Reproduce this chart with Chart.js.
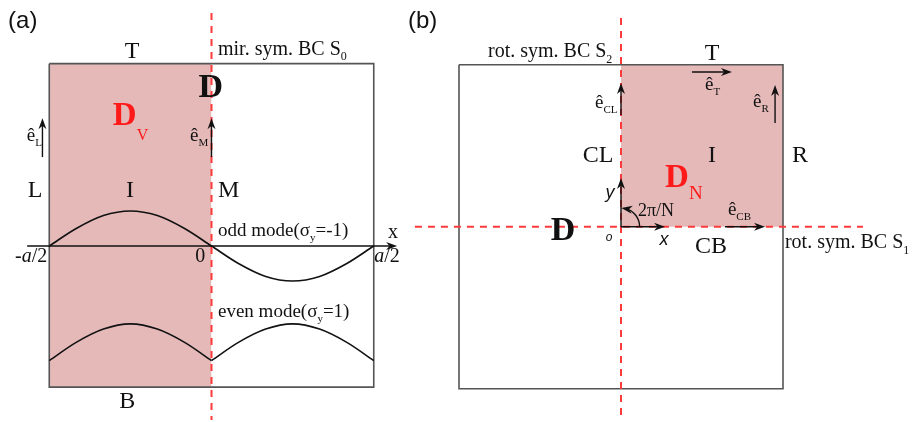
<!DOCTYPE html>
<html>
<head>
<meta charset="utf-8">
<script src="https://cdn.jsdelivr.net/npm/chart.js@4.4.1/dist/chart.umd.min.js"></script>
<style>
  html, body { margin: 0; padding: 0; background: #fff; }
  #wrap { position: relative; width: 912px; height: 422px; }
  canvas { position: absolute; left: 0; top: 0; }
</style>
</head>
<body>
<div id="wrap">
  <canvas id="panelA" width="912" height="422"></canvas>
  <canvas id="panelB" width="912" height="422"></canvas>
</div>
<script>
// ---- panel (a): unit cell -a/2..a/2, y measured from the x axis (units of a)
const cellAX = [-0.5, 0.5, 0.5, -0.5, -0.5];
const cellAY = [0.562, 0.562, -0.435, -0.435, 0.562];
const halfAX = [-0.5, 0];            // shaded half cell D_V
const halfATop = 0.562;
const halfABottom = -0.435;
const modeX = [-0.5, -0.417, -0.333, -0.25, -0.167, -0.083, 0, 0.083, 0.167, 0.25, 0.333, 0.417, 0.5];
const oddY = [0, 0.054, 0.094, 0.108, 0.094, 0.054, 0, -0.054, -0.094, -0.108, -0.094, -0.054, 0];
const evenY = [-0.353, -0.297, -0.256, -0.240, -0.256, -0.297, -0.353, -0.297, -0.256, -0.240, -0.256, -0.297, -0.353];
const mirrorLineY = [0.718, -0.536];  // x = 0
const tickLabelsA = ["-a/2", "0", "a/2"];
const tickValuesA = [-0.556, -0.035, 0.541];

// ---- panel (b): square cell -1..1, origin o at the centre
const cellBX = [-1, 1, 1, -1, -1];
const cellBY = [1, 1, -1, -1, 1];
const sectorX = [0, 1];              // shaded sector D_N
const sectorTop = 1;
const sectorBottom = 0;
const rotLineVY = [1.288, -1.162];   // x = 0
const rotLineHX = [-1.272, 1.494];   // y = 0

const SERIF = '"Liberation Serif", "DejaVu Serif", serif';
const SANS = '"Liberation Sans", Arial, sans-serif';
const SHADE = '#e6b9b9';
const RED = '#ff1a1a';
const DASH_RED = '#ff3a3a';
const INK = '#111';

function pts(xs, ys) { return xs.map((x, i) => ({ x: x, y: ys[i] })); }

function lineDs(data, extra) {
  return Object.assign({
    data: data, borderColor: INK, borderWidth: 1.6, pointRadius: 0,
    fill: false, tension: 0
  }, extra);
}

// labels: parts [{t, sub, italic}] drawn at data coordinates
const labelsA = [
  { x: -0.627, y: 0.672, parts: [{ t: "(a)" }], size: 24, family: SANS },
  { x: -0.245, y: 0.579, parts: [{ t: "T" }], size: 24, align: "center" },
  { x: 0.020, y: 0.589, parts: [{ t: "mir. sym. BC S" }, { t: "0", sub: true }], size: 20 },
  { x: -0.002, y: 0.459, parts: [{ t: "D" }], size: 34, bold: true, align: "center" },
  { x: -0.304, y: 0.374, parts: [{ t: "D" }, { t: "V", sub: true }], size: 33, bold: true, color: RED, subSize: 16, subDy: 15 },
  { x: -0.569, y: 0.324, parts: [{ t: "ê" }, { t: "L", sub: true }], size: 19, subSize: 11, subDy: 5 },
  { x: -0.066, y: 0.324, parts: [{ t: "ê" }, { t: "M", sub: true }], size: 19, subSize: 11, subDy: 5 },
  { x: -0.544, y: 0.151, parts: [{ t: "L" }], size: 24, align: "center" },
  { x: -0.251, y: 0.151, parts: [{ t: "I" }], size: 24, align: "center" },
  { x: 0.020, y: 0.151, parts: [{ t: "M" }], size: 24 },
  { x: 0.559, y: 0.025, parts: [{ t: "x" }], size: 20, align: "center" },
  { x: tickValuesA[0], y: -0.049, parts: [{ t: "-" }, { t: "a", italic: true }, { t: "/2" }], size: 20, align: "center" },
  { x: tickValuesA[1], y: -0.049, parts: [{ t: tickLabelsA[1] }], size: 20, align: "center" },
  { x: tickValuesA[2], y: -0.049, parts: [{ t: "a", italic: true }, { t: "/2" }], size: 20, align: "center" },
  { x: 0.020, y: 0.031, parts: [{ t: "odd mode(σ" }, { t: "y", sub: true }, { t: "=-1)" }], size: 19 },
  { x: 0.020, y: -0.219, parts: [{ t: "even mode(σ" }, { t: "y", sub: true }, { t: "=1)" }], size: 19 },
  { x: -0.260, y: -0.499, parts: [{ t: "B" }], size: 24, align: "center" }
];
const arrowsA = [
  [-0.568, 0, 0.572, 0],
  [-0.521, 0.274, -0.521, 0.394],
  [0, 0.274, 0, 0.394]
];

const labelsB = [
  { x: -1.315, y: 1.227, parts: [{ t: "(b)" }], size: 24, family: SANS },
  { x: -0.821, y: 1.048, parts: [{ t: "rot. sym. BC S" }, { t: "2", sub: true }], size: 20 },
  { x: 0.562, y: 1.029, parts: [{ t: "T" }], size: 24, align: "center" },
  { x: 0.519, y: 0.844, parts: [{ t: "ê" }, { t: "T", sub: true }], size: 19, subSize: 11, subDy: 5 },
  { x: 0.815, y: 0.739, parts: [{ t: "ê" }, { t: "R", sub: true }], size: 19, subSize: 11, subDy: 5 },
  { x: -0.160, y: 0.733, parts: [{ t: "ê" }, { t: "CL", sub: true }], size: 19, subSize: 11, subDy: 5 },
  { x: -0.142, y: 0.399, parts: [{ t: "CL" }], size: 24, align: "center" },
  { x: 0.562, y: 0.399, parts: [{ t: "I" }], size: 24, align: "center" },
  { x: 1.105, y: 0.399, parts: [{ t: "R" }], size: 24, align: "center" },
  { x: 0.272, y: 0.245, parts: [{ t: "D" }, { t: "N", sub: true }], size: 33, bold: true, color: RED, subSize: 19, subDy: 12 },
  { x: -0.068, y: 0.177, parts: [{ t: "y" }], size: 18, italic: true, family: SANS, align: "center" },
  { x: 0.265, y: -0.113, parts: [{ t: "x" }], size: 18, italic: true, family: SANS, align: "center" },
  { x: -0.074, y: -0.088, parts: [{ t: "o" }], size: 12, italic: true, family: SANS, align: "center" },
  { x: 0.105, y: 0.066, parts: [{ t: "2π/N" }], size: 18 },
  { x: 0.660, y: 0.072, parts: [{ t: "ê" }, { t: "CB", sub: true }], size: 19, subSize: 11, subDy: 5 },
  { x: 0.556, y: -0.162, parts: [{ t: "CB" }], size: 24, align: "center" },
  { x: 1.012, y: -0.131, parts: [{ t: "rot. sym. BC S" }, { t: "1", sub: true }], size: 20 },
  { x: -0.358, y: -0.082, parts: [{ t: "D" }], size: 34, bold: true, align: "center" }
];
const arrowsB = [
  [0.438, 0.955, 0.685, 0.955],
  [0.951, 0.640, 0.951, 0.875],
  [0, 0.690, 0, 0.887],
  [0, 0, 0, 0.301],
  [0, 0, 0.272, 0],
  [0.642, 0, 0.889, 0]
];
const arcsB = [{ r: 0.115 }];   // 2π/N angle mark at the origin

function fontOf(L, part) {
  const fam = L.family || SERIF;
  if (part.sub) return (L.subSize || Math.round(L.size * 0.58)) + 'px ' + fam;
  return (part.italic || L.italic ? 'italic ' : '') + (L.bold ? 'bold ' : '') + L.size + 'px ' + fam;
}

function drawLabel(chart, L) {
  const ctx = chart.ctx;
  const px = chart.scales.x.getPixelForValue(L.x);
  const py = chart.scales.y.getPixelForValue(L.y);
  let w = 0;
  const widths = L.parts.map(p => { ctx.font = fontOf(L, p); const m = ctx.measureText(p.t).width; w += m; return m; });
  let x = px;
  if (L.align === 'center') x = px - w / 2;
  else if (L.align === 'right') x = px - w;
  ctx.fillStyle = L.color || INK;
  ctx.textAlign = 'left';
  ctx.textBaseline = 'alphabetic';
  L.parts.forEach((p, i) => {
    ctx.font = fontOf(L, p);
    const dy = p.sub ? (L.subDy != null ? L.subDy : L.size * 0.28) : 0;
    ctx.fillText(p.t, x, py + dy);
    x += widths[i];
  });
}

function arrowHead(ctx, x, y, ang) {
  const len = 11, half = 4;
  ctx.save();
  ctx.translate(x, y);
  ctx.rotate(ang);
  ctx.beginPath();
  ctx.moveTo(0, 0);
  ctx.lineTo(-len, -half);
  ctx.lineTo(-len * 0.7, 0);
  ctx.lineTo(-len, half);
  ctx.closePath();
  ctx.fill();
  ctx.restore();
}

const overlay = {
  id: 'overlay',
  afterDatasetsDraw(chart) {
    const o = chart.options.plugins.overlay;
    const ctx = chart.ctx;
    const sx = chart.scales.x, sy = chart.scales.y;
    ctx.save();
    ctx.strokeStyle = INK;
    ctx.fillStyle = INK;
    ctx.lineWidth = 1.4;
    (o.arrows || []).forEach(a => {
      const x1 = sx.getPixelForValue(a[0]), y1 = sy.getPixelForValue(a[1]);
      const x2 = sx.getPixelForValue(a[2]), y2 = sy.getPixelForValue(a[3]);
      const ang = Math.atan2(y2 - y1, x2 - x1);
      ctx.beginPath();
      ctx.moveTo(x1, y1);
      ctx.lineTo(x2 - Math.cos(ang) * 6, y2 - Math.sin(ang) * 6);
      ctx.stroke();
      arrowHead(ctx, x2, y2, ang);
    });
    (o.arcs || []).forEach(a => {
      const cx = sx.getPixelForValue(0), cy = sy.getPixelForValue(0);
      const r = sx.getPixelForValue(a.r) - cx;
      ctx.beginPath();
      ctx.arc(cx, cy, r, 0, -Math.PI / 2 + 0.25, true);
      ctx.stroke();
      const ex = cx + r * Math.cos(-Math.PI / 2 + 0.02), ey = cy + r * Math.sin(-Math.PI / 2 + 0.02);
      arrowHead(ctx, ex, ey, Math.PI + 0.15);
    });
    (o.labels || []).forEach(L => drawLabel(chart, L));
    ctx.restore();
  }
};

function makeChart(id, xMin, xMax, yMin, yMax, datasets, extra) {
  return new Chart(document.getElementById(id), {
    type: 'line',
    data: { datasets: datasets },
    options: {
      responsive: false,
      animation: false,
      devicePixelRatio: 1,
      layout: { padding: 0 },
      scales: {
        x: { type: 'linear', min: xMin, max: xMax, display: false },
        y: { type: 'linear', min: yMin, max: yMax, display: false }
      },
      plugins: { legend: { display: false }, tooltip: { enabled: false }, overlay: extra }
    },
    plugins: [overlay]
  });
}

// panel (a): 324.5 px per a, origin at (211.5, 246)
makeChart('panelA', -0.6518, 2.1587, -0.5424, 0.7581, [
  lineDs(pts(halfAX, [halfATop, halfATop]), { borderWidth: 0, backgroundColor: SHADE, fill: { value: halfABottom }, order: 10 }),
  lineDs(pts(cellAX, cellAY), { borderColor: '#555', borderWidth: 1.6, order: 8 }),
  lineDs(pts(modeX, oddY), { cubicInterpolationMode: 'monotone', order: 5 }),
  lineDs(pts(modeX.slice(0, 7), evenY.slice(0, 7)), { cubicInterpolationMode: 'monotone', order: 5 }),
  lineDs(pts(modeX.slice(6), evenY.slice(6)), { cubicInterpolationMode: 'monotone', order: 5 }),
  lineDs(pts([0, 0], mirrorLineY), { borderColor: DASH_RED, borderWidth: 2, borderDash: [7, 6], order: 2 })
], { labels: labelsA, arrows: arrowsA });

// panel (b): 162 px per unit, origin at (621, 226.7)
makeChart('panelB', -3.8333, 1.7963, -1.2056, 1.3994, [
  lineDs(pts(sectorX, [sectorTop, sectorTop]), { borderWidth: 0, backgroundColor: SHADE, fill: { value: sectorBottom }, order: 10 }),
  lineDs(pts(cellBX, cellBY), { borderColor: '#555', borderWidth: 1.6, order: 8 }),
  lineDs(pts([0, 0], rotLineVY), { borderColor: DASH_RED, borderWidth: 2, borderDash: [7, 6], order: 2 }),
  lineDs(pts(rotLineHX, [0, 0]), { borderColor: DASH_RED, borderWidth: 2, borderDash: [7, 6], order: 2 })
], { labels: labelsB, arrows: arrowsB, arcs: arcsB });
</script>
</body>
</html>
